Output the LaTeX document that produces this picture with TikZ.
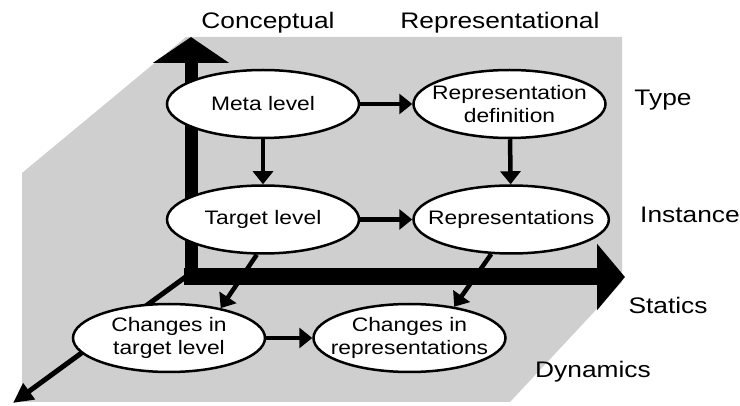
\documentclass[tikz,border=0pt]{standalone}
\usepackage{fontspec}
\setmainfont[FakeStretch=1.17]{Liberation Sans}
\usepackage{tikz}
\usetikzlibrary{arrows.meta, positioning, shapes.geometric}

\begin{document}
\begin{tikzpicture}[
            x=1pt, y=-1pt,
            node distance=45pt,
            levelnode/.style={ellipse, draw=black, line width=2.5pt, fill=white,
                minimum width=192pt, minimum height=68pt, inner xsep=-14pt, inner ysep=0pt,
                align=center, font=\fontsize{19.5}{23}\selectfont},
            axislabel/.style={font=\fontsize{22.5}{26}\selectfont},
            levelarrow/.style={line width=4.5pt, -{Triangle[length=13pt, width=20pt]}},
            ]
            \useasboundingbox (0,0) rectangle (740,406);
            \fill[gray!38] (186,37) -- (622,37) -- (622,282) -- (510,402) -- (22,402) -- (22,173) -- cycle;

            \coordinate (origin) at (191,277);
            \coordinate (conctip) at (191,37);
            \coordinate (statip) at (625,277);
            \coordinate (dyntip) at (13,403);
            \draw[line width=13pt, -{Triangle[length=26pt, width=75pt]}] ([yshift=8pt]origin) -- (conctip);
            \draw[line width=17pt, -{Triangle[length=28pt, width=65pt]}] ([xshift=-7pt]origin) -- (statip);
            \draw[line width=5pt, -{Triangle[length=20pt, width=19pt]}] ([yshift=4pt]origin) -- (dyntip);

            \node[levelnode]    (meta)    at (263,104) {Meta level};
            \node[levelnode]    (repdef)  [right=52pt of meta] {Representation\\definition};
            \node[levelnode]    (target)  [below=of meta] {Target level};
            \node[levelnode]    (reps)    [right=52pt of target] {Representations};
            \node[levelnode]    (ctarget) [below=48pt of target, xshift=-94pt] {Changes in\\target level};
            \node[levelnode]    (creps)   [right=46pt of ctarget] {Changes in\\representations};

            \node[axislabel]    (concept) at (268,23) {Conceptual};
            \node[axislabel]    (repres)  at (500,23) {Representational};
            \node[axislabel]    (type)    at (663,100) {Type};
            \node[axislabel]    (inst)    at (690,215) {Instance};
            \node[axislabel]    (stat)    at (668,305) {Statics};
            \node[axislabel]    (dyn)     at (593,372) {Dynamics};

            \draw[levelarrow] (meta) -- (repdef);
            \draw[levelarrow] (meta) -- (target);
            \draw[levelarrow] (repdef) -- (reps);
            \draw[levelarrow] (target) -- (reps);
            \draw[levelarrow] (target.-100) -- (ctarget.30);
            \draw[levelarrow] (reps.-120) -- (creps.35);
            \draw[levelarrow] (ctarget) -- (creps);
        \end{tikzpicture}
\end{document}
